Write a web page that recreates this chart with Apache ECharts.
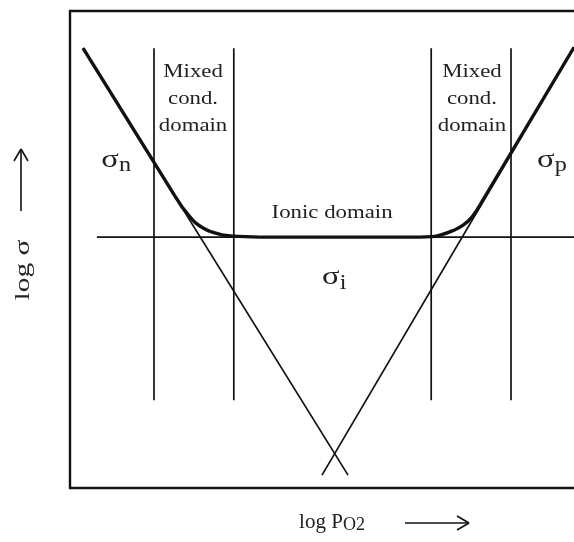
<!DOCTYPE html>
<html>
<head>
<meta charset="utf-8">
<script src="https://cdn.jsdelivr.net/npm/echarts@6/dist/echarts.min.js"></script>
<style>
  html, body { margin: 0; padding: 0; background: #fff; overflow: hidden; }
  #chart { width: 574px; height: 542px; }
</style>
</head>
<body>
<div id="chart"></div>
<script>
// Schematic Brouwer-type diagram: log conductivity vs. log oxygen partial pressure.
// Arbitrary units on both axes (x: log PO2, y: log sigma).

// Domain boundaries (vertical guides)
const boundaryX = [2.0, 3.9, 8.6, 10.5];
const boundaryTop = 9.22;
const boundaryBottom = 1.84;

// Ionic conductivity level (horizontal line)
const ionicLevel = 5.26;
const ionicFrom = 0.64;
const ionicTo = 13;

// Electronic (n-type) and hole (p-type) conductivity branches
const nBranchX = [0.31, 6.62];
const nBranchY = [9.22, 0.27];
const pBranchX = [6.0, 12.0];
const pBranchY = [0.27, 9.24];

// Total conductivity curve
const totalX = [0.31, 2.5, 2.86, 3.17, 3.45, 3.76, 4.17, 4.52, 8.33, 8.62, 8.81, 9.10, 9.36, 9.57, 9.76, 12.0];
const totalY = [9.22, 6.12, 5.68, 5.45, 5.35, 5.29, 5.27, 5.26, 5.26, 5.27, 5.30, 5.39, 5.51, 5.68, 5.93, 9.24];
// Index ranges of the curve: straight / bend / flat / bend / straight
const totalPieces = [[0, 1, false], [1, 7, true], [7, 8, false], [8, 14, true], [14, 15, false]];

// Region labels
const regionText = ['Mixed\ncond.\ndomain', 'Mixed\ncond.\ndomain', 'Ionic domain'];
const regionX = [2.93, 9.57, 6.24];
const regionY = [8.15, 8.15, 5.77];

// Conductivity symbols
const sigmaSub = ['n', 'p', 'i'];
const sigmaX = [0.95, 11.33, 6.21];
const sigmaY = [6.88, 6.88, 4.42];

const SERIF = '"Liberation Serif", "DejaVu Serif", serif';
const INK = '#111';
const TEXT = '#222';

function pairs(xs, ys) { return xs.map((x, i) => [x, ys[i]]); }

function thinLine(data) {
  return {
    type: 'line', data: data, symbol: 'none', silent: true,
    lineStyle: { color: INK, width: 1.7 }, z: 2
  };
}

const series = [];
boundaryX.forEach(x => series.push(thinLine([[x, boundaryTop], [x, boundaryBottom]])));
series.push(thinLine([[ionicFrom, ionicLevel], [ionicTo, ionicLevel]]));
series.push(thinLine(pairs(nBranchX, nBranchY)));
series.push(thinLine(pairs(pBranchX, pBranchY)));

const totalPts = pairs(totalX, totalY);
totalPieces.forEach(([a, b, curved]) => {
  series.push({
    type: 'line', data: totalPts.slice(a, b + 1), symbol: 'none', silent: true,
    smooth: curved ? 0.5 : false,
    lineStyle: { color: INK, width: 3.4 }, z: 3
  });
});

series.push({
  type: 'custom', coordinateSystem: 'cartesian2d', silent: true, clip: false, z: 4,
  data: pairs(regionX, regionY),
  renderItem: function (params, api) {
    const p = api.coord([api.value(0), api.value(1)]);
    return {
      type: 'text', x: p[0], y: p[1], scaleX: 1.2,
      style: {
        text: regionText[params.dataIndex], fill: TEXT,
        fontFamily: SERIF, fontSize: 19, lineHeight: 27,
        align: 'center', verticalAlign: 'middle'
      }
    };
  }
});

series.push({
  type: 'custom', coordinateSystem: 'cartesian2d', silent: true, clip: false, z: 4,
  data: pairs(sigmaX, sigmaY),
  renderItem: function (params, api) {
    const p = api.coord([api.value(0), api.value(1)]);
    return {
      type: 'group', x: p[0], y: p[1],
      children: [
        { type: 'text', x: 0, y: 0, scaleX: 1.25,
          style: { text: 'σ', fill: TEXT, fontFamily: SERIF, fontSize: 26,
                   align: 'center', verticalAlign: 'middle' } },
        { type: 'text', x: 9, y: 6, scaleX: 1.15,
          style: { text: sigmaSub[params.dataIndex], fill: TEXT, fontFamily: SERIF, fontSize: 21,
                   align: 'left', verticalAlign: 'middle' } }
      ]
    };
  }
});

// Frame: left, top and bottom edges only (the plot runs off the right side)
function frameAxis(extra) {
  return Object.assign({
    type: 'value', axisTick: { show: false },
    axisLabel: { show: false }, splitLine: { show: false },
    axisLine: { show: true, onZero: false, lineStyle: { color: INK, width: 2.4 } }
  }, extra);
}

function seg(x1, y1, x2, y2) {
  return { type: 'line', shape: { x1: x1, y1: y1, x2: x2, y2: y2 },
           style: { stroke: INK, lineWidth: 1.6 } };
}

const chart = echarts.init(document.getElementById('chart'), null, { renderer: 'canvas' });
chart.setOption({
  animation: false,
  backgroundColor: '#fff',
  grid: {
    left: 70, top: 11, width: 546, height: 477,
    outerBoundsMode: 'none', containLabel: false, show: false
  },
  xAxis: [
    frameAxis({
      min: 0, max: 13, position: 'bottom',
      name: '{m|log P}{s|O2}', nameLocation: 'middle', nameGap: 22,
      nameTextStyle: {
        padding: [0, 22, 0, 0],
        rich: {
          m: { fontFamily: SERIF, fontSize: 21, color: TEXT, lineHeight: 24 },
          s: { fontFamily: SERIF, fontSize: 18, color: TEXT, lineHeight: 14, verticalAlign: 'bottom' }
        }
      }
    }),
    frameAxis({ min: 0, max: 13, position: 'top' })
  ],
  yAxis: frameAxis({ min: 0, max: 10, position: 'left' }),
  graphic: [
    // y-axis title with upward arrow
    { type: 'text', x: 23, y: 270, rotation: Math.PI / 2, scaleX: 1.4,
      style: { text: 'log σ', fill: TEXT, fontFamily: SERIF, fontSize: 21,
               align: 'center', verticalAlign: 'middle' } },
    seg(21, 211, 21, 149), seg(14, 161, 21, 149), seg(28, 161, 21, 149),
    // rightward arrow after the x-axis title
    seg(405, 523, 469, 523), seg(457, 516, 469, 523), seg(457, 530, 469, 523)
  ],
  series: series
});
</script>
</body>
</html>
